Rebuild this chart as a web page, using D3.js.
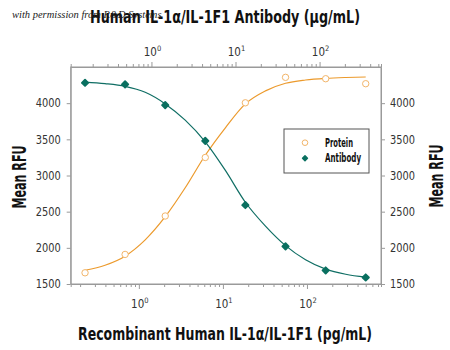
<!DOCTYPE html>
<html>
<head>
<meta charset="utf-8">
<script src="https://cdn.jsdelivr.net/npm/d3@7"></script>
<style>
  html, body { margin: 0; padding: 0; background: #fff; }
  svg { display: block; }
  .lab { font-family: "DejaVu Sans", "Liberation Sans", sans-serif; font-stretch: condensed; }
</style>
</head>
<body>
<svg id="chart" width="450" height="350"></svg>
<script>
// ---- data ----
const concentrations = [0.229, 0.686, 2.06, 6.17, 18.5, 55.6, 167, 500]; // pg/mL
const proteinValues  = [1655, 1909, 2440, 3249, 4005, 4357, 4338, 4269];
const antibodyValues = [4282, 4260, 3973, 3479, 2592, 2020, 1687, 1590];
// fitted curves
const fitConcentrations = [0.229, 0.396, 0.686, 1.19, 2.06, 3.56, 6.17, 10.7, 18.5, 32.1, 55.6, 96.2, 167, 289, 500];
const proteinFit  = [1690, 1760, 1885, 2110, 2430, 2830, 3280, 3660, 3990, 4170, 4275, 4320, 4343, 4355, 4362];
const antibodyFit = [4292, 4270, 4232, 4150, 3990, 3765, 3465, 3070, 2630, 2300, 2030, 1835, 1705, 1635, 1595];
const yTickValues = [1500, 2000, 2500, 3000, 3500, 4000];
const seriesNames = ["Protein", "Antibody"];
const bottomDomain = [0.1546, 760];
const topDomain = [0.1095, 538];

const colors = { Protein: "#ec9a2c", ProteinPt: "#f2b56a", Antibody: "#0f6e64", AntibodyPt: "#0a7060" };
const axisColor = "#9a9a9a";

const svg = d3.select("#chart");
const L = 70.7, R = 381, T = 67, B = 284;

const x = d3.scaleLog().domain(bottomDomain).range([L, R]);
const xTop = d3.scaleLog().domain(topDomain).range([L, R]);
const y = d3.scaleLinear().domain([1500, 4500]).range([B, T]);

// plot box
svg.append("rect").attr("x", L).attr("y", T).attr("width", R - L).attr("height", B - T)
  .attr("fill", "none").attr("stroke", axisColor).attr("stroke-width", 1);

function isPow10(v) { const l = Math.log10(v); return Math.abs(l - Math.round(l)) < 1e-6; }

function styleAxis(g) {
  g.select(".domain").attr("stroke", axisColor);
  g.selectAll(".tick line").attr("stroke", axisColor);
  g.selectAll(".tick text").attr("fill", "#333").attr("class", "lab").attr("font-size", 11.5)
    .attr("textLength", 25).attr("lengthAdjust", "spacingAndGlyphs");
}

// bottom axis
const gB = svg.append("g").attr("transform", `translate(0,${B})`)
  .call(d3.axisBottom(x).ticks(10).tickFormat(() => "").tickSizeOuter(0).tickSize(3));
gB.selectAll(".tick line").attr("y2", d => isPow10(d) ? 5 : 3);
gB.select(".domain").attr("stroke", axisColor);
gB.selectAll(".tick line").attr("stroke", axisColor);

// top axis
const gT = svg.append("g").attr("transform", `translate(0,${T})`)
  .call(d3.axisTop(xTop).ticks(10).tickFormat(() => "").tickSizeOuter(0).tickSize(3));
gT.selectAll(".tick line").attr("y2", d => isPow10(d) ? -5 : -3);
gT.select(".domain").attr("stroke", axisColor);
gT.selectAll(".tick line").attr("stroke", axisColor);

// power-of-ten labels
function powLabels(scale, yPos, ticks) {
  ticks.filter(isPow10).forEach(v => {
    const t = svg.append("text").attr("class", "lab").attr("x", scale(v) + 1).attr("y", yPos)
      .attr("text-anchor", "middle").attr("font-size", 11.5).attr("fill", "#333");
    t.append("tspan").text("10");
    t.append("tspan").attr("dy", -5).attr("font-size", 7.5).text(Math.round(Math.log10(v)));
  });
}
powLabels(x, 308, x.ticks(10));
powLabels(xTop, 56, xTop.ticks(10));

// left axis
const gL = svg.append("g").attr("transform", `translate(${L},0)`)
  .call(d3.axisLeft(y).tickValues(yTickValues).tickFormat(d3.format("d")).tickSize(4).tickSizeOuter(0).tickPadding(6));
styleAxis(gL);
// right axis
const gR = svg.append("g").attr("transform", `translate(${R},0)`)
  .call(d3.axisRight(y).tickValues(yTickValues).tickFormat(d3.format("d")).tickSize(4).tickSizeOuter(0).tickPadding(5));
styleAxis(gR);

// curves
const line = d3.line().x(d => x(d[0])).y(d => y(d[1])).curve(d3.curveMonotoneX);
svg.append("path").datum(d3.zip(fitConcentrations, proteinFit))
  .attr("d", line).attr("fill", "none").attr("stroke", colors.Protein).attr("stroke-width", 1.2);
svg.append("path").datum(d3.zip(fitConcentrations, antibodyFit))
  .attr("d", line).attr("fill", "none").attr("stroke", colors.Antibody).attr("stroke-width", 1.2);

// points
svg.append("g").selectAll("circle").data(d3.zip(concentrations, proteinValues)).join("circle")
  .attr("cx", d => x(d[0])).attr("cy", d => y(d[1])).attr("r", 3.2)
  .attr("fill", "#fff").attr("stroke", colors.ProteinPt).attr("stroke-width", 1);
const diamond = d3.symbol().type(d3.symbolSquare).size(20);
svg.append("g").selectAll("path").data(d3.zip(concentrations, antibodyValues)).join("path")
  .attr("transform", d => `translate(${x(d[0])},${y(d[1])}) rotate(45)`)
  .attr("d", diamond).attr("fill", colors.AntibodyPt).attr("stroke", colors.AntibodyPt)
  .attr("stroke-width", 1.8).attr("stroke-linejoin", "round");

// legend
const lg = svg.append("g").attr("transform", "translate(284,129)");
lg.append("rect").attr("width", 85).attr("height", 44).attr("fill", "#fff")
  .attr("stroke", "#555").attr("stroke-width", 1);
lg.append("circle").attr("cx", 21).attr("cy", 13.7).attr("r", 2.8)
  .attr("fill", "#fff").attr("stroke", colors.ProteinPt);
lg.append("path").attr("transform", "translate(21,29.3) rotate(45)").attr("d", d3.symbol().type(d3.symbolSquare).size(12))
  .attr("fill", colors.AntibodyPt).attr("stroke", colors.AntibodyPt).attr("stroke-width", 1.5)
  .attr("stroke-linejoin", "round");
const legendWidths = [28, 36];
seriesNames.forEach((n, i) => {
  lg.append("text").attr("class", "lab").attr("x", 41).attr("y", 17.5 + i * 15.6)
    .attr("font-size", 11.5).attr("font-weight", "bold").attr("fill", "#111")
    .attr("textLength", legendWidths[i]).attr("lengthAdjust", "spacingAndGlyphs").text(n);
});

// axis titles
function title(txt, len, size, attrs) {
  const t = svg.append("text").attr("class", "lab").attr("font-size", size).attr("font-weight", "bold")
    .attr("fill", "#111").attr("text-anchor", "middle")
    .attr("textLength", len).attr("lengthAdjust", "spacingAndGlyphs").text(txt);
  Object.entries(attrs).forEach(([k, v]) => t.attr(k, v));
  return t;
}
title("Mean RFU", 63, 19, { transform: "translate(25.5,177) rotate(-90)" });
title("Mean RFU", 63, 19, { transform: "translate(443,176) rotate(-90)" });
title("Recombinant Human IL-1α/IL-1F1 (pg/mL)", 294, 17.5, { x: 225, y: 340 });
title("Human IL-1α/IL-1F1 Antibody  (µg/mL)", 270, 18, { x: 225, y: 23 });
// watermark
svg.append("text").attr("x", 12).attr("y", 18).attr("font-family", "Liberation Serif, DejaVu Serif, serif")
  .attr("font-style", "italic").attr("font-size", 10.5).attr("fill", "#222")
  .text("with permission from R&D Systems");
</script>
</body>
</html>
